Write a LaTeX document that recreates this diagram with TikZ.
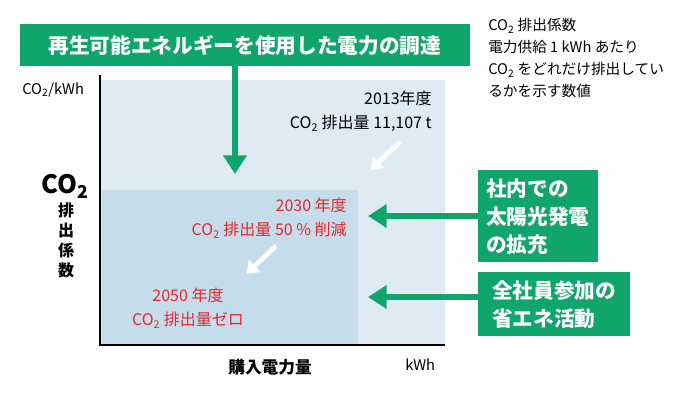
\documentclass[tikz,border=0pt]{standalone}
\usepackage{fontspec}
\setmainfont{Noto Sans CJK JP}
\usetikzlibrary{arrows.meta}
\definecolor{gr}{HTML}{10A56A}
\definecolor{lb}{HTML}{DEEAF4}
\definecolor{db}{HTML}{C5DDEB}
\definecolor{rd}{HTML}{E0282E}
\tikzset{
 garrow/.style={gr,line width=4pt,-{Triangle[length=14pt,width=17pt]}},
 warrow/.style={white,line width=3.5pt,-{Triangle[length=9pt,width=12pt]}},
 gbox/.style={fill=gr,text=white,font=\bfseries\fontsize{15.5}{21}\selectfont,align=left,inner sep=6pt},
 txt/.style={font=\fontsize{11}{14}\selectfont,inner sep=0pt}
}
\begin{document}
\begin{tikzpicture}[x=0.75pt,y=-0.75pt]
\useasboundingbox (0,0) rectangle (686,404);
\fill[lb] (100,80) rectangle (445,345);
\fill[db] (100,190) rectangle (358,345);
\draw[line width=0.8pt] (100,75) coordinate (ytop) -- (100,345) coordinate (o) -- (445,345) coordinate (xend);
\node[gbox,anchor=west,minimum height=32pt,minimum width=337pt] (banner) at (20,45) {再生可能エネルギーを使用した電力の調達};
\node[txt,anchor=north west,align=left,font=\fontsize{11}{16.5}\selectfont] (note) at (488,18) {CO\textsubscript{2} 排出係数\\電力供給 1 kWh あたり\\CO\textsubscript{2} をどれだけ排出してい\\るかを示す数値};
\node[txt,anchor=west] (yl) at (22,90) {CO\textsubscript{2}/kWh};
\node[txt,anchor=west] (xl) at (405,365) {kWh};
\node[txt,font=\bfseries\fontsize{12.5}{15}\selectfont] (xt) at (270,367) {購入電力量};
\node[inner sep=0pt,font=\bfseries\fontsize{19}{22}\selectfont] (co) at (65,186) {CO\textsubscript{2}};
\node[inner sep=0pt,align=center,font=\bfseries\fontsize{12}{15}\selectfont] (hs) at (66,240) {排\\出\\係\\数};
\node[txt,anchor=north east,align=right,font=\fontsize{12}{18}\selectfont] (y13) at (432,91) {2013年度\\CO\textsubscript{2} 排出量 11,107 t};
\node[txt,anchor=north east,align=right,text=rd,font=\fontsize{12}{18}\selectfont] (y30) at (347,198) {2030 年度\\CO\textsubscript{2} 排出量 50 \% 削減};
\node[txt,anchor=north,align=center,text=rd,font=\fontsize{12}{18}\selectfont] (y50) at (188,288) {2050 年度\\CO\textsubscript{2} 排出量ゼロ};
\node[gbox,anchor=north west,minimum width=79pt,minimum height=69pt] (b1) at (478,170) {社内での\\太陽光発電\\の拡充};
\node[gbox,anchor=north west,minimum width=114pt,minimum height=47pt] (b2) at (478,272) {全社員参加の\\省エネ活動};
\coordinate (a1s) at (235,62); \coordinate (a1e) at (235,174);
\draw[garrow] (a1s) -- (a1e);
\coordinate (a2e) at (368,216); \draw[garrow] (b1.west|-a2e) -- (a2e);
\coordinate (a3e) at (368,297); \draw[garrow] (b2.west|-a3e) -- (a3e);
\coordinate (w1s) at (400,142); \coordinate (w1e) at (370,170);
\draw[warrow] (w1s) -- (w1e);
\coordinate (w2s) at (276,246); \coordinate (w2e) at (246,274);
\draw[warrow] (w2s) -- (w2e);
\end{tikzpicture}
\end{document}
